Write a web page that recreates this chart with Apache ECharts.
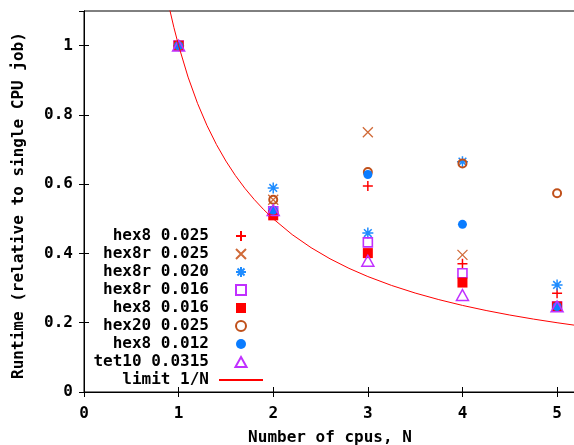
<!DOCTYPE html>
<html>
<head>
<meta charset="utf-8">
<script src="https://cdn.jsdelivr.net/npm/echarts@6/dist/echarts.min.js"></script>
<style>html,body{margin:0;padding:0;background:#fff}#c{width:574px;height:445px}</style>
</head>
<body>
<div id="c"></div>
<script>
const cpus = [1, 2, 3, 4, 5];
const hex8_025   = [1.0, 0.520, 0.595, 0.370, 0.285];
const hex8r_025  = [1.0, 0.555, 0.750, 0.396, null];
const hex8r_020  = [1.0, 0.589, 0.459, 0.665, 0.309];
const hex8r_016  = [1.0, 0.522, 0.432, 0.343, 0.247];
const hex8_016   = [1.0, 0.510, 0.401, 0.316, 0.247];
const hex20_025  = [1.0, 0.555, 0.635, 0.660, 0.574];
const hex8_012   = [1.0, 0.525, 0.628, 0.484, 0.247];
const tet10_0315 = [1.0, 0.525, 0.379, 0.280, 0.247];
const limitN       = [0.9, 0.95, 1, 1.1, 1.2, 1.3, 1.4, 1.5, 1.6, 1.7, 1.8, 1.9, 2, 2.2, 2.4, 2.6, 2.8, 3, 3.25, 3.5, 3.75, 4, 4.25, 4.5, 4.75, 5, 5.2];
const limitRuntime = [1.1111, 1.0526, 1, 0.9091, 0.8333, 0.7692, 0.7143, 0.6667, 0.625, 0.5882, 0.5556, 0.5263, 0.5, 0.4545, 0.4167, 0.3846, 0.3571, 0.3333, 0.3077, 0.2857, 0.2667, 0.25, 0.2353, 0.2222, 0.2105, 0.2, 0.1923];
const xTicks = [0, 1, 2, 3, 4, 5];
const yTicks = [0, 0.2, 0.4, 0.6, 0.8, 1];

const FONT = 'DejaVu Sans Mono';
const pts = (ys) => cpus.map((x, i) => [x, ys[i]]).filter(p => p[1] != null);

const PLUS = 'path://M0,5L10,5M5,0L5,10';
const CROSS = 'path://M0,0L10,10M10,0L0,10';
const STAR = 'path://M0,5L10,5M5,0L5,10M1.5,1.5L8.5,8.5M8.5,1.5L1.5,8.5';
const SQUARE = 'path://M0,0L10,0L10,10L0,10Z';
const TRI = 'path://M5,0L10,9L0,9Z';

function sc(name, data, symbol, size, fill, stroke, bw) {
  return {
    name, type: 'scatter', data: pts(data), symbol, symbolSize: size, symbolKeepAspect: true,
    itemStyle: { color: fill, borderColor: stroke, borderWidth: bw, opacity: 1 },
    emphasis: { disabled: true }
  };
}

const labelStyle = { fontFamily: FONT, fontWeight: 'bold', fontSize: 16, color: '#000' };
const tickStyle = { show: true, inside: true, length: 5, lineStyle: { color: '#000', width: 1 } };
const lineStyleAxis = { show: true, lineStyle: { color: '#000', width: 1 } };

const option = {
  animation: false,
  backgroundColor: '#fff',
  grid: { left: 84, top: 11, right: -2, bottom: 53, outerBoundsMode: 'none', containLabel: false,
          show: true, borderColor: '#000', borderWidth: 1, backgroundColor: 'transparent' },
  legend: {
    orient: 'vertical', align: 'right', right: 310, top: 228, padding: 0,
    itemWidth: 44, itemHeight: 10, itemGap: 2, symbolKeepAspect: true,
    textStyle: { fontFamily: FONT, fontWeight: 'bold', fontSize: 16, color: '#000', lineHeight: 16, padding: [0, 5, 0, 0] },
    selectedMode: false
  },
  xAxis: [{
    type: 'value', min: 0, max: 5.2, interval: 1,
    axisLine: lineStyleAxis, axisTick: tickStyle,
    axisLabel: { ...labelStyle, margin: 14, showMaxLabel: false, formatter: v => xTicks.includes(v) ? String(v) : '' },
    splitLine: { show: false },
    name: 'Number of cpus, N', nameLocation: 'middle', nameGap: 38,
    nameTextStyle: labelStyle
  }, {
    type: 'value', min: 0, max: 5.2, interval: 1, position: 'top',
    axisLine: lineStyleAxis, axisTick: tickStyle,
    axisLabel: { show: false }, splitLine: { show: false }
  }],
  yAxis: [{
    type: 'value', min: 0, max: 1.1, interval: 0.2,
    axisLine: lineStyleAxis, axisTick: tickStyle,
    axisLabel: { ...labelStyle, margin: 11, showMaxLabel: false, formatter: v => yTicks.some(t => Math.abs(t - v) < 1e-9) ? String(+v.toFixed(1)) : '' },
    splitLine: { show: false },
    name: 'Runtime (relative to single CPU job)', nameLocation: 'middle', nameGap: 57,
    nameTextStyle: { ...labelStyle, padding: [0, 8, 0, 0] }
  }, {
    type: 'value', min: 0, max: 1.1, interval: 0.2, position: 'right',
    axisLine: lineStyleAxis, axisTick: tickStyle,
    axisLabel: { show: false }, splitLine: { show: false }
  }],
  series: [
    sc('hex8 0.025', hex8_025, PLUS, 10, 'none', '#ff0000', 1.5),
    sc('hex8r 0.025', hex8r_025, CROSS, 10, 'none', '#d06a38', 1.3),
    sc('hex8r 0.020', hex8r_020, STAR, 11, 'none', '#1e8cff', 1.5),
    sc('hex8r 0.016', hex8r_016, SQUARE, 9, 'none', '#c030ff', 1.6),
    sc('hex8 0.016', hex8_016, SQUARE, 10, '#ff0000', '#ff0000', 0),
    sc('hex20 0.025', hex20_025, 'circle', 8, 'none', '#c0501a', 2),
    sc('hex8 0.012', hex8_012, 'circle', 9, '#0a7cff', '#0a7cff', 0),
    sc('tet10 0.0315', tet10_0315, TRI, 12, 'none', '#c030ff', 1.5),
    {
      name: 'limit 1/N', type: 'line', symbol: 'none', showSymbol: false,
      data: limitN.map((n, i) => [n, limitRuntime[i]]),
      lineStyle: { color: '#ff0000', width: 1 }, itemStyle: { color: 'rgba(0,0,0,0)', borderWidth: 0 },
      clip: true, emphasis: { disabled: true }
    }
  ]
};
echarts.init(document.getElementById('c')).setOption(option);
</script>
</body>
</html>
